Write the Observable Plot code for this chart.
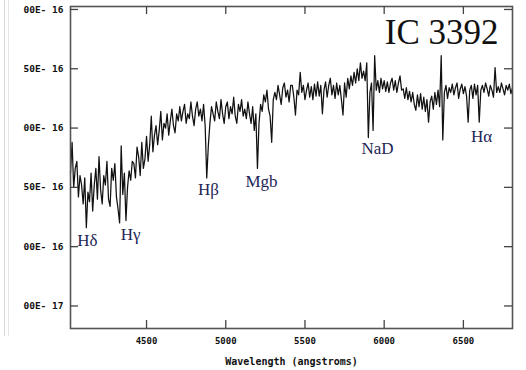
<!DOCTYPE html>
<html>
<head>
<meta charset="utf-8">
<script src="https://cdn.jsdelivr.net/npm/d3@7"></script>
<script src="https://cdn.jsdelivr.net/npm/@observablehq/plot@0.6"></script>
<style>
  body { margin: 0; background: #fff; }
  #wrap { position: relative; width: 526px; height: 370px; overflow: hidden; }
  #edge { position: absolute; left: 4px; top: 0; width: 3px; height: 336px; border-left: 1px solid #d6d6d6; border-right: 1px solid #e4e4e4; }
</style>
</head>
<body>
<div id="wrap"><div id="edge"></div></div>
<script>
// Sampling grid of the spectrum (angstroms), 10 Å steps
const wavelengths = d3.range(4020, 6811, 10);
// Flux in units of 1e-16 (erg/s/cm^2/Å)
const flux = [
  1.62,1.88,1.50,1.66,1.72,1.42,1.60,1.52,1.36,1.58,
  1.16,1.46,1.38,1.62,1.30,1.52,1.66,1.40,1.76,1.48,
  1.36,1.60,1.52,1.72,1.40,1.34,1.66,1.56,1.70,1.42,
  1.32,1.20,1.85,1.44,1.62,1.22,1.50,1.64,1.56,1.72,
  1.70,1.58,1.84,1.76,1.60,1.88,1.66,1.74,1.93,1.72,
  1.86,2.10,1.80,1.94,2.02,1.86,1.98,2.14,1.90,2.04,
  2.00,2.12,1.94,2.06,2.16,2.02,1.96,2.12,2.06,2.18,
  2.06,2.14,2.20,2.04,2.12,2.08,2.22,2.10,2.02,2.16,
  2.22,2.10,2.16,2.06,2.20,2.02,1.58,1.85,2.04,2.18,
  2.12,2.06,2.22,2.14,2.08,2.24,2.12,2.04,2.18,2.22,
  2.08,2.18,2.12,2.26,2.10,2.04,2.20,2.14,2.24,2.10,
  2.16,2.08,2.22,2.12,2.04,2.18,1.98,2.12,1.66,2.04,
  2.20,2.14,2.28,2.22,2.32,2.16,2.10,1.88,2.24,2.30,
  2.24,2.36,2.28,2.20,2.34,2.38,2.26,2.32,2.22,2.36,
  2.36,2.26,2.11,2.32,2.28,2.47,2.30,2.36,2.24,2.32,
  2.38,2.26,2.35,2.24,2.37,2.27,2.39,2.27,2.36,2.12,
  2.32,2.39,2.26,2.36,2.42,2.28,2.36,2.25,2.38,2.28,
  2.36,2.24,2.11,2.38,2.26,2.42,2.33,2.44,2.36,2.47,
  2.38,2.50,2.40,2.55,2.42,2.48,2.40,2.55,1.92,2.30,
  2.38,1.98,2.61,2.32,2.40,2.30,2.42,2.33,2.40,2.31,
  2.39,2.30,2.38,2.42,2.32,2.40,2.30,2.38,2.44,2.32,
  2.33,2.25,2.34,2.24,2.31,2.22,2.30,2.20,2.15,2.28,
  2.18,2.29,2.16,2.26,2.14,2.24,2.05,2.22,2.27,2.16,
  2.30,2.20,2.32,2.18,2.61,1.90,2.30,2.36,2.25,2.34,
  2.30,2.37,2.28,2.34,2.38,2.25,2.33,2.37,2.29,2.35,
  2.27,2.05,2.32,2.36,2.25,2.37,2.28,2.36,2.05,2.32,
  2.36,2.30,2.38,2.33,2.27,2.36,2.32,2.26,2.51,2.30,
  2.35,2.30,2.38,2.33,2.28,2.36,2.32,2.37,2.29,2.34
];
// Axis ticks
const xTicks = [4500, 5000, 5500, 6000, 6500];
const yTicks = [0.5, 1.0, 1.5, 2.0, 2.5, 3.0];
// Absorption-line labels (anchor wavelength and flux level of the label)
const lineNames = ["H\u03b4", "H\u03b3", "H\u03b2", "Mgb", "NaD", "H\u03b1"];
const lineWave  = [4127, 4399, 4891, 5226, 5958, 6615];
const lineFlux  = [1.05, 1.10, 1.48, 1.55, 1.83, 1.93];
const objectName = "IC 3392";
const xLabel = "Wavelength (angstroms)";

const spectrum = wavelengths.map((w, i) => ({w, f: flux[i]}));
const labels = lineNames.map((t, i) => ({t, w: lineWave[i], f: lineFlux[i]}));

// The left part of the tick labels is hidden by the neighbouring panel in the source figure
const yFmt = d => (d * 1e-16).toExponential(2).toUpperCase().replace("E-", "E- ").slice(2);

const W = 526, H = 370, mL = 70, mR = 14, mT = 6, mB = 42;
const innerW = W - mL - mR, innerH = H - mT - mB;
const tickLen = 8;
const mono = "'DejaVu Sans Mono', monospace";

const chart = Plot.plot({
  width: W, height: H,
  marginLeft: mL, marginRight: mR, marginTop: mT, marginBottom: mB,
  style: {background: "white", overflow: "visible"},
  x: {domain: [4020, 6810]},
  y: {domain: [0.31, 3.025]},
  marks: [
    Plot.lineY(spectrum, {x: "w", y: "f", stroke: "#111", strokeWidth: 1.25}),
    Plot.frame({stroke: "#555", strokeWidth: 1.6}),
    // inward ticks on all four sides
    Plot.tickX(xTicks, {x: d => d, stroke: "#444", strokeWidth: 1.3, insetTop: innerH - tickLen}),
    Plot.tickX(xTicks, {x: d => d, stroke: "#444", strokeWidth: 1.3, insetBottom: innerH - tickLen}),
    Plot.tickY(yTicks, {y: d => d, stroke: "#444", strokeWidth: 1.3, insetRight: innerW - tickLen}),
    Plot.tickY(yTicks, {y: d => d, stroke: "#444", strokeWidth: 1.3, insetLeft: innerW - tickLen}),
    Plot.axisX({ticks: xTicks, tickSize: 0, tickPadding: 9, tickFormat: d => String(d),
      fontFamily: mono, fontWeight: "bold", fontSize: 9, fill: "#111", label: null}),
    Plot.axisY({ticks: yTicks, tickSize: 0, tickPadding: 7, tickFormat: yFmt,
      fontFamily: mono, fontWeight: "bold", fontSize: 9.5, fill: "#111", label: null}),
    Plot.text([xLabel], {frameAnchor: "bottom", dy: 33, text: d => d, fontFamily: mono,
      fontWeight: "bold", fontSize: 10, fill: "#111", lineAnchor: "middle"}),
    Plot.text(labels, {x: "w", y: "f", text: "t", fontFamily: "'Liberation Serif', 'Times New Roman', serif",
      fontSize: 17, fill: "#1e2656", lineAnchor: "middle"}),
    Plot.text([objectName], {frameAnchor: "top-right", dx: -14, dy: 37, text: d => d,
      fontFamily: "'Liberation Serif', 'Times New Roman', serif", fontSize: 35, fill: "#111",
      textAnchor: "end", lineAnchor: "bottom"})
  ]
});
document.getElementById("wrap").appendChild(chart);
</script>
</body>
</html>
